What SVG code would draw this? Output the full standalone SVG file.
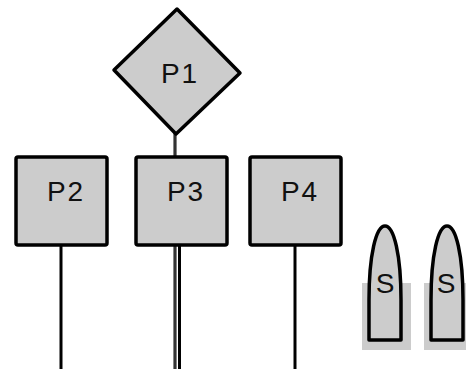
<svg xmlns="http://www.w3.org/2000/svg" width="466" height="369" viewBox="0 0 466 369">
<style>
.n{fill:#cccccc;stroke:#000;stroke-width:3.5;stroke-linejoin:round}
.t{font-family:"Liberation Sans",Arial,sans-serif;font-size:28px;letter-spacing:2px;fill:#111;text-anchor:middle}
.w{stroke:#000;stroke-width:3;fill:none}
.bg{fill:#cccccc;stroke:none}
</style>
<rect width="466" height="369" fill="#fff"/>
<g id="connectors">
<line x1="175" y1="133" x2="175" y2="369" stroke="#333" stroke-width="3.2"/>
<line class="w" x1="61" y1="245" x2="61" y2="369"/>
<line class="w" x1="179.5" y1="245" x2="179.5" y2="369" stroke-width="2.6"/>
<line class="w" x1="295" y1="245" x2="295" y2="369"/>
</g>
<g id="P1">
<polygon class="n" points="177,9 240,73 176,134 114,70"/>
<text class="t" x="180" y="83">P1</text>
</g>
<g id="P2">
<rect class="n" x="16" y="157" width="91" height="88" rx="2"/>
<text class="t" x="66" y="201">P2</text>
</g>
<g id="P3">
<rect class="n" x="136" y="157" width="91" height="88" rx="2"/>
<text class="t" x="186" y="201">P3</text>
</g>
<g id="P4">
<rect class="n" x="250" y="157" width="91" height="88" rx="2"/>
<text class="t" x="300" y="201">P4</text>
</g>
<g id="S1">
<rect class="bg" x="362" y="283" width="49" height="67"/>
<path class="n" d="M369,340 L369,300 C369,255 376,226 385,226 C394,226 401,255 401,300 L401,340 Z"/>
<text class="t" x="386" y="293">S</text>
</g>
<g id="S2">
<rect class="bg" x="424" y="283" width="42" height="67"/>
<path class="n" d="M431,340 L431,300 C431,255 438,226 447,226 C456,226 463,255 463,300 L463,340 Z"/>
<text class="t" x="447" y="293">S</text>
</g>
</svg>
